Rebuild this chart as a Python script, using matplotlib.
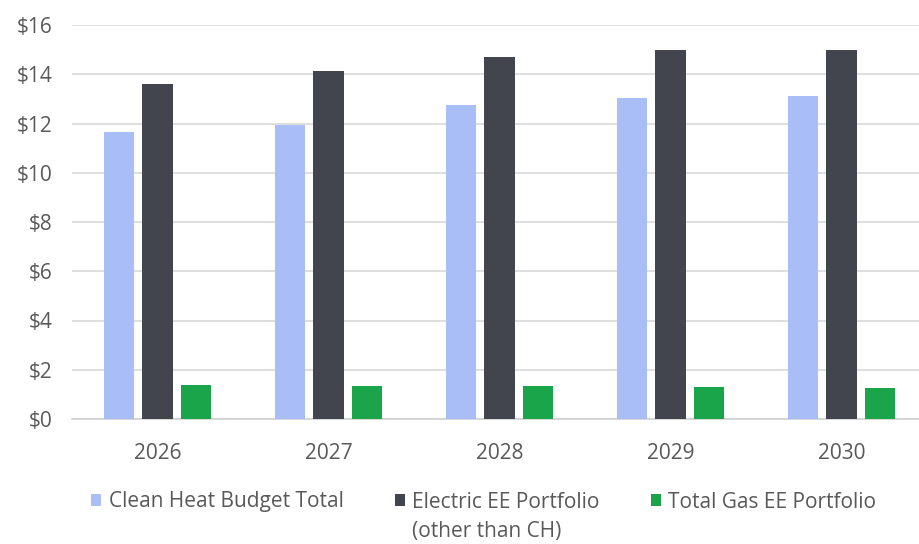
import matplotlib
matplotlib.use("Agg")
import matplotlib.pyplot as plt
from matplotlib.patches import Patch
import numpy as np

plt.rcParams['font.family'] = ['Open Sans', 'DejaVu Sans']

years = ["2026", "2027", "2028", "2029", "2030"]
clean_heat = [11.65, 11.95, 12.75, 13.05, 13.1]
electric_ee = [13.6, 14.15, 14.7, 14.98, 14.98]
gas_ee = [1.37, 1.32, 1.33, 1.28, 1.24]

series_names = ["Clean Heat Budget Total",
                "Electric EE Portfolio",
                "Total Gas EE Portfolio"]
electric_note = "(other than CH)"
colors = ["#a9bdf7", "#42444e", "#1ba54b"]
text_color = "#595959"

W, H = 919, 544
fig = plt.figure(figsize=(W / 100, H / 100), dpi=100)
ax = fig.add_axes([72 / W, (H - 419) / H, 847 / W, 394 / H])

x = np.arange(len(years))
width = 0.18
pitch = 0.225
for i, (vals, c) in enumerate(zip([clean_heat, electric_ee, gas_ee], colors)):
    ax.bar(x + (i - 1) * pitch, vals, width, color=c, zorder=3)

ax.set_xlim(-0.5, -0.5 + 847 / 171)
ax.set_ylim(0, 16)
ax.set_yticks(np.arange(0, 17, 2))
ax.set_yticklabels([f"${v}" for v in range(0, 17, 2)])
ax.set_xticks(x)
ax.set_xticklabels(years)

ax.grid(axis="y", color="#d9d9d9", linewidth=1.2, zorder=0)
for s in ["left", "right", "top"]:
    ax.spines[s].set_visible(False)
ax.spines["bottom"].set_color("#d0d0d0")
ax.spines["bottom"].set_linewidth(1.2)
ax.tick_params(axis="both", length=0, colors=text_color, labelsize=15)
ax.tick_params(axis="y", pad=14)
ax.tick_params(axis="x", pad=17)

handles = [Patch(facecolor=c, edgecolor="none") for c in colors]
leg = fig.legend(handles, series_names, ncol=3, loc="center left",
                 bbox_to_anchor=(91 / W, 1 - 502 / H), frameon=False,
                 borderpad=0, borderaxespad=0,
                 fontsize=15, handlelength=0.5, handleheight=0.5,
                 handletextpad=0.35, columnspacing=2.45, labelcolor=text_color)

# second line of the electric portfolio label, aligned under its first line
fig.canvas.draw()
bb = leg.get_texts()[1].get_window_extent()
fig.text(bb.x0 / W, 1 - 532 / H, electric_note, fontsize=15,
         color=text_color, ha="left", va="center")

fig.savefig("out.png", dpi=100, facecolor="white")
